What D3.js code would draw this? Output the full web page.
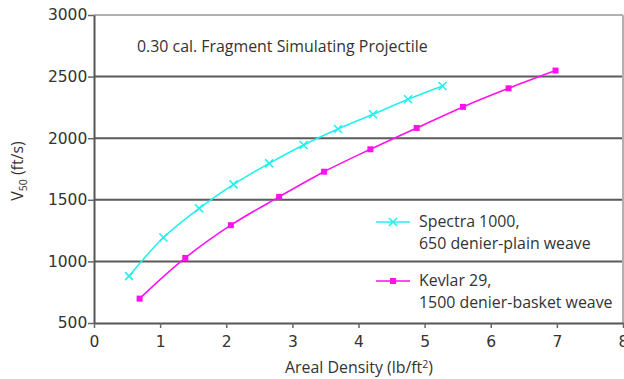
<!DOCTYPE html>
<html>
<head>
<meta charset="utf-8">
<script src="https://cdn.jsdelivr.net/npm/d3@7"></script>
<style>
  body { margin: 0; background: #fff; }
  svg { display: block; font-family: "Open Sans", sans-serif; }
</style>
</head>
<body>
<svg id="chart" width="624" height="379"></svg>
<script>
const spectraX = [0.53, 1.05, 1.59, 2.11, 2.65, 3.17, 3.69, 4.22, 4.75, 5.27];
const spectraY = [880, 1194, 1430, 1625, 1796, 1945, 2075, 2194, 2316, 2424];
const kevlarX = [0.69, 1.38, 2.07, 2.80, 3.48, 4.18, 4.88, 5.58, 6.27, 6.98];
const kevlarY = [698, 1028, 1294, 1524, 1728, 1910, 2083, 2254, 2405, 2549];
const xTicks = [0, 1, 2, 3, 4, 5, 6, 7, 8];
const yTicks = [500, 1000, 1500, 2000, 2500, 3000];
const titleText = "0.30 cal. Fragment Simulating Projectile";
const legendLabels = [["Spectra 1000,", "650 denier-plain weave"], ["Kevlar 29,", "1500 denier-basket weave"]];

const svg = d3.select("#chart");
const x = d3.scaleLinear().domain([0, 8]).range([94, 623]);
const y = d3.scaleLinear().domain([500, 3000]).range([323, 15]);
const textColor = "#333";
const fs = "15.9px";

// gridlines
svg.append("g").selectAll("line").data(yTicks.filter(d => d > 500)).join("line")
  .attr("x1", x(0)).attr("x2", x(8))
  .attr("y1", d => y(d)).attr("y2", d => y(d))
  .attr("stroke", d => d === 3000 ? "#b0b0b0" : "#5a5a5a")
  .attr("stroke-width", 2);
// right border
svg.append("line").attr("x1", x(8)).attr("x2", x(8)).attr("y1", y(3000)).attr("y2", y(500))
  .attr("stroke", "#b0b0b0").attr("stroke-width", 2);

// axes
const xAxis = svg.append("g").attr("transform", `translate(0,${y(500)})`)
  .call(d3.axisBottom(x).tickValues(xTicks).tickSize(5).tickSizeOuter(0).tickFormat(d3.format("d")));
const yAxis = svg.append("g").attr("transform", `translate(${x(0)},0)`)
  .call(d3.axisLeft(y).tickValues(yTicks).tickSize(6).tickSizeOuter(0).tickFormat(d3.format("d")));
[xAxis, yAxis].forEach(g => {
  g.select(".domain").attr("stroke", "#555").attr("stroke-width", 2);
  g.selectAll(".tick line").attr("stroke", "#666").attr("stroke-width", 1.5);
  g.selectAll(".tick text").attr("fill", textColor).style("font-size", "15.5px").style("font-family", "'DejaVu Sans', sans-serif");
});
xAxis.selectAll(".tick text").attr("dy", "1.0em");
yAxis.selectAll(".tick text").attr("dx", "0.15em");

// curves
const line = d3.line().x(d => x(d[0])).y(d => y(d[1])).curve(d3.curveCatmullRom.alpha(0.5));
const spectra = spectraX.map((v, i) => [v, spectraY[i]]);
const kevlar = kevlarX.map((v, i) => [v, kevlarY[i]]);
const cyan = "#22f0f0", magenta = "#ff11ee";

svg.append("path").datum(spectra).attr("d", line).attr("fill", "none").attr("stroke", cyan).attr("stroke-width", 1.6);
svg.append("path").datum(kevlar).attr("d", line).attr("fill", "none").attr("stroke", magenta).attr("stroke-width", 1.6);

function cross(g, cx, cy, s) {
  g.append("path").attr("d", `M${cx - s},${cy - s}L${cx + s},${cy + s}M${cx - s},${cy + s}L${cx + s},${cy - s}`)
    .attr("stroke", cyan).attr("stroke-width", 1.6).attr("fill", "none");
}
const mk = svg.append("g");
spectra.forEach(d => cross(mk, x(d[0]), y(d[1]), 4));
mk.selectAll("rect.k").data(kevlar).join("rect").attr("class", "k")
  .attr("x", d => x(d[0]) - 3).attr("y", d => y(d[1]) - 3)
  .attr("width", 6).attr("height", 6).attr("fill", magenta);

// title
svg.append("text").attr("x", 137).attr("y", 52).text(titleText)
  .attr("fill", textColor).style("font-size", fs);

// legend
const lg = svg.append("g");
lg.append("line").attr("x1", 376).attr("x2", 410).attr("y1", 222).attr("y2", 222).attr("stroke", cyan).attr("stroke-width", 1.6);
cross(lg, 393, 222, 4);
lg.append("line").attr("x1", 376).attr("x2", 410).attr("y1", 281).attr("y2", 281).attr("stroke", magenta).attr("stroke-width", 1.6);
lg.append("rect").attr("x", 390).attr("y", 278).attr("width", 6).attr("height", 6).attr("fill", magenta);
const legY = [[227, 249], [286, 308]];
legendLabels.forEach((lines, i) => {
  lines.forEach((t, j) => {
    lg.append("text").attr("x", 419).attr("y", legY[i][j]).text(t)
      .attr("fill", textColor).style("font-size", fs);
  });
});

// axis titles
const xt = svg.append("text").attr("x", 359).attr("y", 373).attr("text-anchor", "middle")
  .attr("fill", textColor).style("font-size", fs);
xt.append("tspan").text("Areal Density (lb/ft");
xt.append("tspan").text("2").attr("dy", -5).style("font-size", "10.5px");
xt.append("tspan").text(")").attr("dy", 5);

const yt = svg.append("text").attr("transform", "translate(23,171) rotate(-90)").attr("text-anchor", "middle")
  .attr("fill", textColor).style("font-size", fs);
yt.append("tspan").text("V");
yt.append("tspan").text("50").attr("dy", 4).style("font-size", "10.5px");
yt.append("tspan").text(" (ft/s)").attr("dy", -4);
</script>
</body>
</html>
